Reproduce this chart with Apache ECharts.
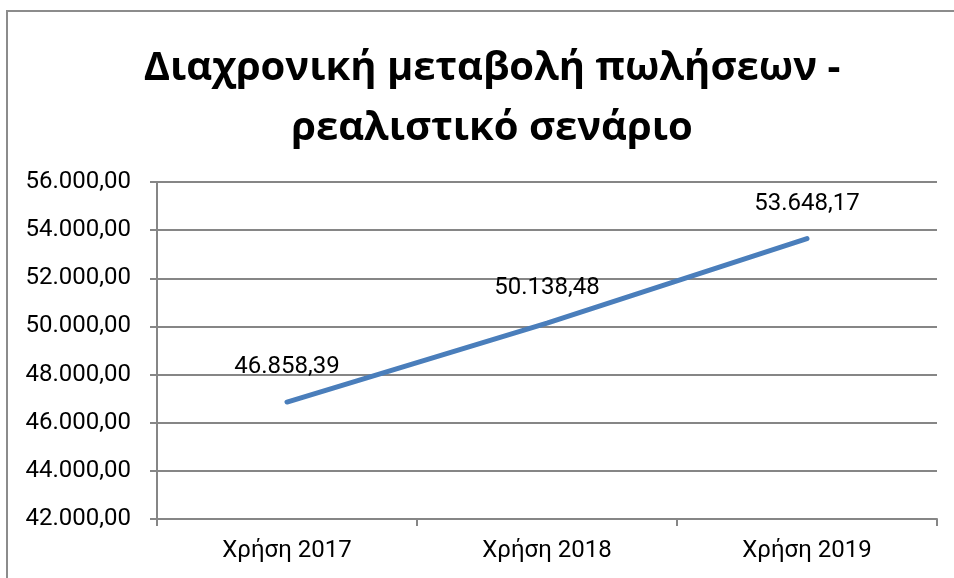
<!DOCTYPE html>
<html>
<head>
<meta charset="utf-8">
<script src="https://cdn.jsdelivr.net/npm/echarts@6/dist/echarts.min.js"></script>
<style>
html,body{margin:0;padding:0;background:#fff;}
#c{width:954px;height:578px;}
</style>
</head>
<body>
<div id="c"></div>
<script>
var categories = ['Χρήση 2017', 'Χρήση 2018', 'Χρήση 2019'];
var sales = [46858.39, 50138.48, 53648.17];
var yMin = 42000, yMax = 56000, yStep = 2000;
var titleLines = ['Διαχρονική μεταβολή πωλήσεων -', 'ρεαλιστικό σενάριο'];

function fmt(v) {
  var s = Number(v).toFixed(2);
  var parts = s.split('.');
  var intPart = parts[0].replace(/\B(?=(\d{3})+(?!\d))/g, '.');
  return intPart + ',' + parts[1];
}

var chart = echarts.init(document.getElementById('c'));
chart.setOption({
  backgroundColor: '#fff',
  animation: false,
  title: {
    text: titleLines.join('\n'),
    left: 487,
    top: 34,
    textAlign: 'center',
    textStyle: {
      fontFamily: 'Open Sans',
      fontWeight: 'bold',
      fontSize: 40,
      lineHeight: 60,
      color: '#000'
    }
  },
  graphic: [{
    type: 'rect',
    shape: {x: 7, y: 11, width: 1200, height: 1200},
    style: {fill: 'none', stroke: '#8c8c8c', lineWidth: 2},
    silent: true
  }],
  grid: {left: 157, right: 17, top: 182, bottom: 59, containLabel: false},
  xAxis: {
    type: 'category',
    data: categories,
    boundaryGap: true,
    axisLine: {lineStyle: {color: '#868686', width: 2}},
    axisTick: {show: true, length: 7, lineStyle: {color: '#868686', width: 2}},
    axisLabel: {color: '#000', fontFamily: 'Roboto', fontSize: 24, margin: 20}
  },
  yAxis: {
    type: 'value',
    min: yMin, max: yMax, interval: yStep,
    axisLine: {show: true, lineStyle: {color: '#868686', width: 2}},
    axisTick: {show: true, length: 7, lineStyle: {color: '#868686', width: 2}},
    splitLine: {lineStyle: {color: '#868686', width: 2}},
    axisLabel: {color: '#000', fontFamily: 'Roboto', fontSize: 24, margin: 26, formatter: fmt}
  },
  series: [{
    type: 'line',
    data: sales,
    symbol: 'circle',
    symbolSize: 2,
    showSymbol: true,
    itemStyle: {color: 'rgba(74,126,187,0)', borderWidth: 0},
    lineStyle: {color: '#4a7ebb', width: 5, cap: 'round'},
    label: {
      show: true,
      position: 'top',
      distance: 22,
      color: '#000',
      fontFamily: 'Roboto',
      fontSize: 24,
      formatter: function (p) { return fmt(p.value); }
    },
    z: 3
  }]
});
</script>
</body>
</html>
